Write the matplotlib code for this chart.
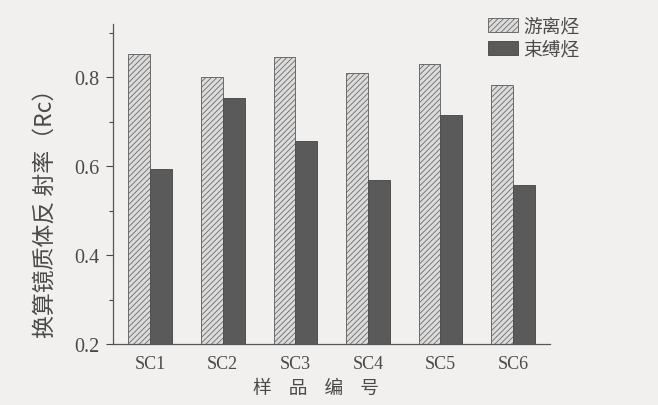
import matplotlib
matplotlib.use("Agg")
import matplotlib.pyplot as plt
import numpy as np

plt.rcParams['font.family'] = ['Liberation Serif', 'Noto Sans CJK SC']
plt.rcParams['hatch.color'] = '#8a8a8a'
plt.rcParams['hatch.linewidth'] = 0.6

categories = ['SC1', 'SC2', 'SC3', 'SC4', 'SC5', 'SC6']
free_hc = [0.852, 0.800, 0.845, 0.811, 0.831, 0.782]
bound_hc = [0.593, 0.753, 0.658, 0.569, 0.715, 0.557]
series_names = ['游离烃', '束缚烃']
yticks = [0.2, 0.4, 0.6, 0.8]

bg = '#f1f0ee'
txt = '#4a4a4a'

fig = plt.figure(figsize=(6.58, 4.06), dpi=100, facecolor=bg)
ax = fig.add_axes([0.172, 0.150, 0.664, 0.788], facecolor=bg)

x = np.arange(len(categories))
w = 0.30
ax.bar(x - w/2, free_hc, w, color='#dcdcdc', edgecolor='#6a6a6a',
       linewidth=0.7, hatch='//////', label=series_names[0])
ax.bar(x + w/2, bound_hc, w, color='#5a5a5a', edgecolor='#505050',
       linewidth=0.7, label=series_names[1])

ax.set_xlim(-0.51, 5.51)
ax.set_ylim(0.2, 0.92)
ax.set_yticks(yticks)
ax.set_yticklabels([f'{v:.1f}' for v in yticks])
ax.set_yticks([0.3, 0.5, 0.7, 0.9], minor=True)
ax.set_xticks(x)
ax.set_xticklabels(categories)
ax.tick_params(axis='x', length=0, labelsize=13, colors=txt, pad=8)
ax.tick_params(axis='y', which='major', length=5, width=0.8, labelsize=14.5, colors=txt,
               direction='out', pad=5)
ax.tick_params(axis='y', which='minor', length=3, width=0.8, colors=txt, direction='out')

for s in ['top', 'right']:
    ax.spines[s].set_visible(False)
for s in ['left', 'bottom']:
    ax.spines[s].set_color('#555555')
    ax.spines[s].set_linewidth(0.9)

fig.text(45/658, 1 - 208/406, '换算镜质体反 射率（Rc）', rotation=90, fontsize=16.5,
         color=txt, ha='center', va='center',
         family=['Noto Sans CJK SC', 'Liberation Serif'])
fig.text(316/658, 1 - 388/406, '样    品    编    号', fontsize=13.5, color=txt,
         ha='center', va='center', family=['Noto Sans CJK SC'])

leg = ax.legend(loc='upper left', bbox_to_anchor=(0.84, 1.05), frameon=False,
                prop={'family': 'Noto Sans CJK SC', 'size': 13.5},
                handlelength=1.6, handleheight=0.8, handletextpad=0.3,
                labelspacing=0.1, borderaxespad=0)
for t in leg.get_texts():
    t.set_color(txt)

fig.savefig('out.png', dpi=100, facecolor=bg)
